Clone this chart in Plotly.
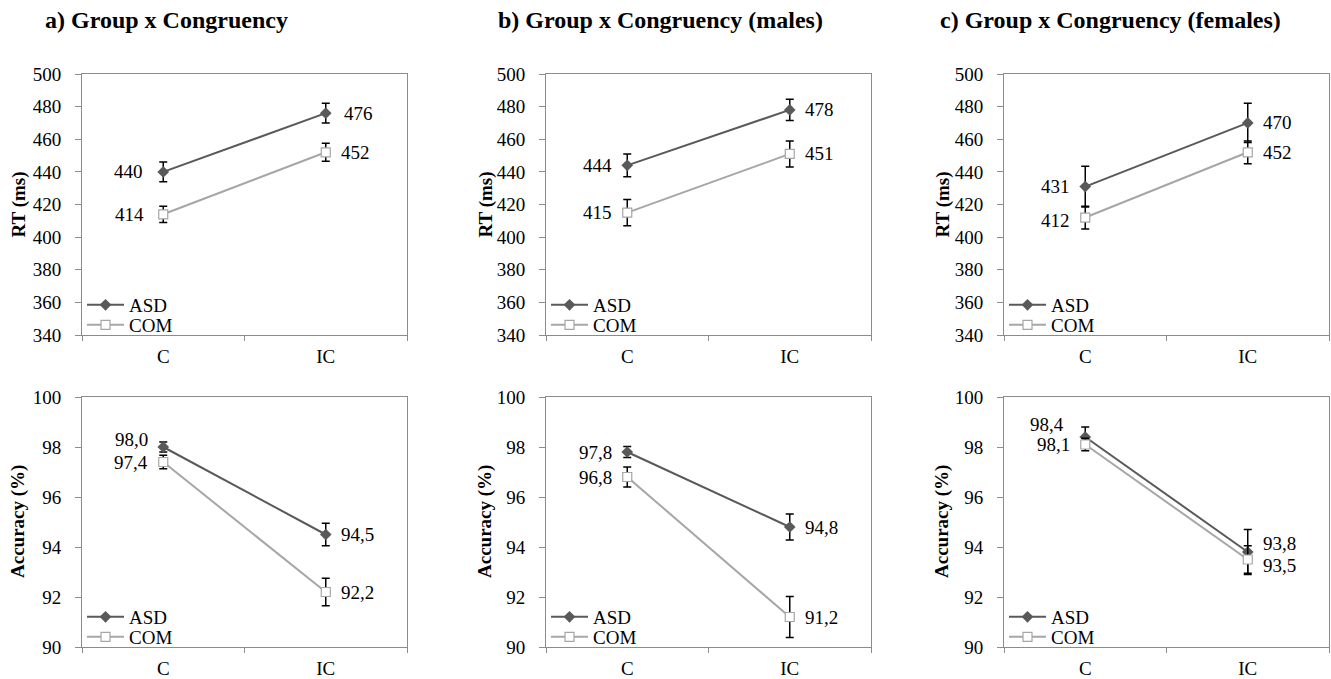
import plotly.graph_objects as go

W, H = 1331, 679

# ---------------- data ----------------
categories = ["C", "IC"]
groups = ["ASD", "COM"]
panel_titles = ["a) Group x Congruency",
                "b) Group x Congruency (males)",
                "c) Group x Congruency (females)"]

rt_asd = [[440, 476], [444, 478], [431, 470]]
rt_com = [[414, 452], [415, 451], [412, 452]]
rt_asd_err = [[6, 6], [7, 6.5], [12.5, 12]]
rt_com_err = [[5, 5.5], [8, 8], [7, 7]]

acc_asd = [[98.0, 94.5], [97.8, 94.8], [98.4, 93.8]]
acc_com = [[97.4, 92.2], [96.8, 91.2], [98.1, 93.5]]
acc_asd_err = [[0.2, 0.45], [0.22, 0.52], [0.4, 0.9]]
acc_com_err = [[0.27, 0.55], [0.4, 0.82], [0.25, 0.55]]

rt_ticks = [340, 360, 380, 400, 420, 440, 460, 480, 500]
acc_ticks = [90, 92, 94, 96, 98, 100]

# ---------------- style ----------------
FONT = "'Liberation Serif', 'Times New Roman', 'DejaVu Serif', serif"
ASD_COLOR = "#595959"
COM_COLOR = "#a6a6a6"
AXIS_COLOR = "#8c8c8c"
x_px = [(82, 407), (546, 871), (1004, 1329)]
y_px_rows = [(74, 335), (397, 647)]
title_cx = [166, 660, 1110]
ytitle_x = [18, 485, 942]
# label pixel offsets per (row, panel, group, cat) when not default
label_yshift = {(1, 0, 0, 0): 8, (1, 2, 0, 0): 13, (1, 2, 0, 1): 9, (1, 2, 1, 1): -6,
                (0, 2, 1, 0): -3}
label_xgap = {(0, 0, 0, 0): 18, (0, 0, 1, 0): 17, (0, 0, 0, 1): 16, (1, 2, 0, 0): 19}


def px(X):
    return X / W


def py(Y):
    return 1 - Y / H


fig = go.Figure()

rows = [
    dict(asd=rt_asd, com=rt_com, asd_err=rt_asd_err, com_err=rt_com_err,
         ticks=rt_ticks, title="RT (ms)", fmt=lambda v: f"{v:.0f}"),
    dict(asd=acc_asd, com=acc_com, asd_err=acc_asd_err, com_err=acc_com_err,
         ticks=acc_ticks, title="Accuracy (%)", fmt=lambda v: f"{v:.1f}".replace(".", ",")),
]

annotations = []
legend_n = 0
layout_extra = {}

for r, row in enumerate(rows):
    for p in range(3):
        idx = r * 3 + p + 1
        xa = "x" if idx == 1 else f"x{idx}"
        ya = "y" if idx == 1 else f"y{idx}"
        xkey = "xaxis" if idx == 1 else f"xaxis{idx}"
        ykey = "yaxis" if idx == 1 else f"yaxis{idx}"
        x0, x1 = x_px[p]
        yt, yb = y_px_rows[r]
        layout_extra[xkey] = dict(
            domain=[px(x0), px(x1)], anchor=ya, type="category",
            categoryorder="array", categoryarray=categories,
            range=[-0.5, 1.5], tickson="boundaries", ticks="outside", ticklen=5,
            tickcolor=AXIS_COLOR, showline=True, linecolor=AXIS_COLOR, linewidth=1,
            mirror=True, showgrid=False, zeroline=False, automargin=False,
            tickfont=dict(family=FONT, size=19, color="black"), ticklabelstandoff=4,
        )
        layout_extra[ykey] = dict(
            domain=[py(yb), py(yt)], anchor=xa,
            range=[row["ticks"][0], row["ticks"][-1]], tickvals=row["ticks"],
            ticks="outside", ticklen=6, tickcolor=AXIS_COLOR,
            showline=True, linecolor=AXIS_COLOR, linewidth=1, mirror=True,
            showgrid=False, zeroline=False, automargin=False,
            tickfont=dict(family=FONT, size=19, color="black"), ticklabelstandoff=10,
        )
        series = [
            ("ASD", row["asd"][p], row["asd_err"][p], ASD_COLOR,
             dict(symbol="diamond", size=9, color=ASD_COLOR, line=dict(width=0))),
            ("COM", row["com"][p], row["com_err"][p], COM_COLOR,
             dict(symbol="square", size=9, color="white", line=dict(width=1.2, color=COM_COLOR))),
        ]
        for g, (name, vals, errs, col, mk) in enumerate(series):
            legend_n += 1
            lkey = "legend" if legend_n == 1 else f"legend{legend_n}"
            fig.add_trace(go.Scatter(
                x=categories, y=vals, name=name, mode="lines+markers",
                line=dict(color=col, width=2), marker=mk,
                error_y=dict(type="data", array=errs, visible=True, color="black",
                             thickness=1.5, width=4),
                xaxis=xa, yaxis=ya, legend=lkey, showlegend=True,
            ))
            item_y = yb - (30 if g == 0 else 10)
            layout_extra[lkey] = dict(
                x=px(x0), y=py(item_y), xanchor="left", yanchor="middle",
                bgcolor="rgba(0,0,0,0)", borderwidth=0,
                font=dict(family=FONT, size=19, color="black"),
                itemwidth=37, tracegroupgap=0,
            )
            for c, v in enumerate(vals):
                key = (r, p, g, c)
                gap = label_xgap.get(key, 13)
                annotations.append(dict(
                    x=categories[c], y=v, xref=xa, yref=ya, text=row["fmt"](v),
                    showarrow=False, xanchor="right" if c == 0 else "left",
                    yanchor="middle", xshift=-gap if c == 0 else gap,
                    yshift=label_yshift.get(key, 0),
                    font=dict(family=FONT, size=19, color="black"),
                ))
        # y axis title
        annotations.append(dict(
            x=px(ytitle_x[p]), y=py((yt + yb) / 2), xref="paper", yref="paper",
            text=f"<b>{row['title']}</b>", textangle=-90, showarrow=False,
            xanchor="center", yanchor="middle",
            font=dict(family=FONT, size=19, color="black"),
        ))

for p in range(3):
    annotations.append(dict(
        x=px(title_cx[p]), y=py(20), xref="paper", yref="paper",
        text=f"<b>{panel_titles[p]}</b>", showarrow=False,
        xanchor="center", yanchor="middle",
        font=dict(family=FONT, size=24, color="black"),
    ))

fig.update_layout(
    template="none",
    width=W, height=H, margin=dict(l=0, r=0, t=0, b=0, autoexpand=False),
    paper_bgcolor="white", plot_bgcolor="white",
    font=dict(family=FONT, size=19, color="black"),
    annotations=annotations, **layout_extra,
)

fig.write_html(
    "out.html",
    config={"displayModeBar": False},
    post_script="document.body.style.margin='0px';document.body.style.overflow='hidden';",
)
